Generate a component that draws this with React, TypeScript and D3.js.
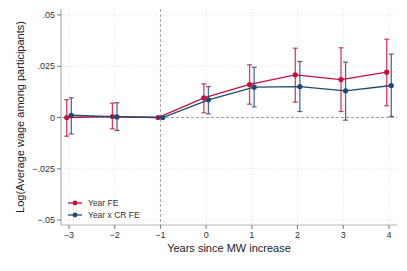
import { useEffect, useRef } from "react";
import * as d3 from "d3";

// event-time periods
const years = [-3, -2, -1, 0, 1, 2, 3, 4];

// Year FE
const yearFE = [0, 0.0005, 0, 0.0096, 0.0161, 0.0208, 0.0185, 0.0221];
const yearFELo = [-0.0091, -0.0055, 0, 0.0023, 0.0065, 0.0075, 0.0029, 0.0057];
const yearFEHi = [0.0087, 0.007, 0, 0.0164, 0.0257, 0.0338, 0.034, 0.0382];

// Year x CR FE
const crFE = [0.0011, 0.0003, 0, 0.0086, 0.0148, 0.0151, 0.013, 0.0156];
const crFELo = [-0.008, -0.0063, 0, 0.0018, 0.0052, 0.0029, -0.0013, 0.0005];
const crFEHi = [0.0096, 0.0072, 0, 0.0151, 0.0245, 0.0273, 0.027, 0.0309];

const yTicks = [-0.05, -0.025, 0, 0.025, 0.05];
const yTickLabels = ["\u2212.05", "\u2212.025", "0", ".025", ".05"];
const xTickLabels = ["\u22123", "\u22122", "\u22121", "0", "1", "2", "3", "4"];

const seriesNames = ["Year FE", "Year x CR FE"];
const seriesColors = ["#c4103b", "#1c4a74"];

export default function App() {
    const svgRef = useRef<SVGSVGElement>(null);

    useEffect(() => {
        if (!svgRef.current) return;
        const svg = d3.select(svgRef.current);
        svg.selectAll("*").remove();

        const font = "'Liberation Sans', Arial, sans-serif";
        const left = 61, right = 397, top = 9, bottom = 225;

        const x = d3.scaleLinear().domain([-3.175, 4.175]).range([left, right]);
        const y = d3.scaleLinear().domain([-0.0524, 0.0529]).range([bottom, top]);

        // grid
        const grid = svg.append("g").attr("stroke", "#d9d9d9").attr("stroke-width", 0.8).attr("stroke-dasharray", "1,2");
        grid.selectAll("line.gx")
            .data(years.filter((d) => d !== -1))
            .enter()
            .append("line")
            .attr("x1", (d) => x(d))
            .attr("x2", (d) => x(d))
            .attr("y1", top)
            .attr("y2", bottom);
        grid.selectAll("line.gy")
            .data(yTicks.filter((d) => d !== 0))
            .enter()
            .append("line")
            .attr("x1", left)
            .attr("x2", right)
            .attr("y1", (d) => y(d))
            .attr("y2", (d) => y(d));

        // reference lines
        svg.append("line")
            .attr("x1", x(-1)).attr("x2", x(-1))
            .attr("y1", top).attr("y2", bottom)
            .attr("stroke", "#8a8a8a").attr("stroke-width", 0.8).attr("stroke-dasharray", "3,2");
        svg.append("line")
            .attr("x1", left).attr("x2", right)
            .attr("y1", y(0)).attr("y2", y(0))
            .attr("stroke", "#8a8a8a").attr("stroke-width", 0.8).attr("stroke-dasharray", "3,2");

        // axes
        svg.append("line")
            .attr("x1", left).attr("x2", left).attr("y1", top).attr("y2", bottom)
            .attr("stroke", "#cfcfcf").attr("stroke-width", 2);
        svg.append("line")
            .attr("x1", left).attr("x2", right).attr("y1", bottom).attr("y2", bottom)
            .attr("stroke", "#b5b5b5").attr("stroke-width", 1);

        const yAxis = svg.append("g");
        yTicks.forEach((t, i) => {
            yAxis.append("line")
                .attr("x1", left - 4).attr("x2", left)
                .attr("y1", y(t)).attr("y2", y(t))
                .attr("stroke", "#555").attr("stroke-width", 0.8);
            yAxis.append("text")
                .attr("x", left - 6).attr("y", y(t)).attr("dy", "0.35em")
                .attr("text-anchor", "end")
                .style("font-family", font).style("font-size", "9px").attr("fill", "#333")
                .text(yTickLabels[i]);
        });

        const xAxis = svg.append("g");
        years.forEach((t, i) => {
            xAxis.append("line")
                .attr("x1", x(t)).attr("x2", x(t))
                .attr("y1", bottom).attr("y2", bottom + 4)
                .attr("stroke", "#555").attr("stroke-width", 0.8);
            xAxis.append("text")
                .attr("x", x(t)).attr("y", bottom + 13)
                .attr("text-anchor", "middle")
                .style("font-family", font).style("font-size", "9px").attr("fill", "#333")
                .text(xTickLabels[i]);
        });

        svg.append("text")
            .attr("x", (left + right) / 2).attr("y", 252)
            .attr("text-anchor", "middle")
            .style("font-family", font).style("font-size", "11px").attr("fill", "#222")
            .text("Years since MW increase");
        svg.append("text")
            .attr("transform", `translate(24,${(top + bottom) / 2}) rotate(-90)`)
            .attr("text-anchor", "middle")
            .style("font-family", font).style("font-size", "11px").attr("fill", "#222")
            .text("Log(Average wage among participants)");

        // series
        const series = [
            { pts: yearFE, lo: yearFELo, hi: yearFEHi, off: -0.05 },
            { pts: crFE, lo: crFELo, hi: crFEHi, off: 0.05 },
        ];
        series.forEach((s, si) => {
            const color = seriesColors[si];
            const g = svg.append("g");
            const rows = years.map((yr, i) => ({ yr: yr + s.off, v: s.pts[i], lo: s.lo[i], hi: s.hi[i] }));

            const line = d3.line<(typeof rows)[0]>().x((d) => x(d.yr)).y((d) => y(d.v));
            g.append("path")
                .attr("d", line(rows) as string)
                .attr("fill", "none").attr("stroke", color).attr("stroke-width", 1.3);

            const ci = rows.filter((d) => d.hi !== d.lo);
            g.selectAll("line.ci").data(ci).enter().append("line")
                .attr("x1", (d) => x(d.yr)).attr("x2", (d) => x(d.yr))
                .attr("y1", (d) => y(d.lo)).attr("y2", (d) => y(d.hi))
                .attr("stroke", color).attr("stroke-opacity", 0.8).attr("stroke-width", 1.3);
            ["lo", "hi"].forEach((k) => {
                g.selectAll(`line.cap${k}`).data(ci).enter().append("line")
                    .attr("x1", (d) => x(d.yr) - 2.5).attr("x2", (d) => x(d.yr) + 2.5)
                    .attr("y1", (d) => y(d[k as "lo" | "hi"])).attr("y2", (d) => y(d[k as "lo" | "hi"]))
                    .attr("stroke", color).attr("stroke-opacity", 0.8).attr("stroke-width", 1.2);
            });

            g.selectAll("circle").data(rows).enter().append("circle")
                .attr("cx", (d) => x(d.yr)).attr("cy", (d) => y(d.v))
                .attr("r", 2.6).attr("fill", color);
        });

        // legend
        const legend = svg.append("g");
        seriesNames.forEach((name, i) => {
            const ly = 203 + i * 12;
            legend.append("line")
                .attr("x1", 68).attr("x2", 82).attr("y1", ly).attr("y2", ly)
                .attr("stroke", seriesColors[i]).attr("stroke-width", 1.3);
            legend.append("circle")
                .attr("cx", 75).attr("cy", ly).attr("r", 2.4).attr("fill", seriesColors[i]);
            legend.append("text")
                .attr("x", 88).attr("y", ly).attr("dy", "0.35em")
                .style("font-family", font).style("font-size", "8.5px").attr("fill", "#333")
                .text(name);
        });
    }, []);

    return (
        <svg
            ref={svgRef}
            width={407}
            height={271}
            style={{ position: "absolute", left: 0, top: 0, background: "white" }}
        />
    );
}
